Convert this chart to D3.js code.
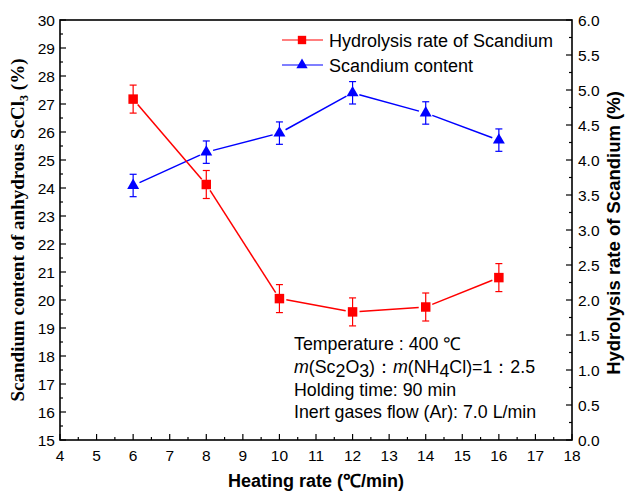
<!DOCTYPE html>
<html><head><meta charset="utf-8">
<script src="https://cdn.jsdelivr.net/npm/d3@7/dist/d3.min.js"></script>
<style>body{margin:0;background:#fff}svg{display:block}.serif,.serif tspan{font-family:"Liberation Serif","DejaVu Serif",serif !important}</style>
</head><body><svg id="c" width="627" height="491"></svg>
<script>
const heatingRate = [6, 8, 10, 12, 14, 16];
const scandiumContent = [24.09, 25.28, 25.96, 27.4, 26.68, 25.71];
const scandiumContentErr = [0.4, 0.4, 0.4, 0.4, 0.4, 0.4];
const hydrolysisRate = [4.87, 3.65, 2.02, 1.83, 1.9, 2.32];
const hydrolysisRateErr = [0.2, 0.2, 0.2, 0.2, 0.2, 0.2];
const xTicks = d3.range(4, 19, 1);
const yLeftTicks = d3.range(15, 31, 1);
const yRightTicks = d3.range(0, 6.01, 0.5);
const seriesNames = ["Hydrolysis rate of Scandium", "Scandium content"];

const SANS = "'Liberation Sans',Arial,sans-serif";
const svg = d3.select("#c").attr("font-family", SANS);
const L = 60, R = 572, T = 20, B = 440;
const x = d3.scaleLinear().domain([4, 18]).range([L, R]);
const yL = d3.scaleLinear().domain([15, 30]).range([B, T]);
const yR = d3.scaleLinear().domain([0, 6]).range([B, T]);

// frame
svg.append("rect").attr("x", L).attr("y", T).attr("width", R - L).attr("height", B - T)
  .attr("fill", "none").attr("stroke", "#000").attr("stroke-width", 1.6);

function ticks(arr, len, orient, scale) {
  arr.forEach(v => {
    const p = scale(v);
    if (orient === "bottom") svg.append("line").attr("x1", p).attr("x2", p).attr("y1", B).attr("y2", B - len).attr("stroke", "#000").attr("stroke-width", 1.2);
    if (orient === "left") svg.append("line").attr("x1", L).attr("x2", L + len).attr("y1", p).attr("y2", p).attr("stroke", "#000").attr("stroke-width", 1.2);
    if (orient === "right") svg.append("line").attr("x1", R).attr("x2", R - len).attr("y1", p).attr("y2", p).attr("stroke", "#000").attr("stroke-width", 1.2);
  });
}
ticks(xTicks, 6, "bottom", x);
ticks(d3.range(4.5, 18, 1), 3, "bottom", x);
ticks(yLeftTicks, 6, "left", yL);
ticks(d3.range(15.5, 30, 1), 3, "left", yL);
ticks(yRightTicks, 6, "right", yR);
ticks(d3.range(0.25, 6, 0.5), 3, "right", yR);

const fs = 15.5;
svg.append("g").selectAll("text").data(xTicks).join("text")
  .attr("x", d => x(d)).attr("y", 461).attr("text-anchor", "middle").attr("font-size", fs).text(d => d);
svg.append("g").selectAll("text").data(yLeftTicks).join("text")
  .attr("x", 55).attr("y", d => yL(d) + 5.5).attr("text-anchor", "end").attr("font-size", fs).text(d => d);
svg.append("g").selectAll("text").data(yRightTicks).join("text")
  .attr("x", 578).attr("y", d => yR(d) + 5.5).attr("text-anchor", "start").attr("font-size", fs).text(d => d.toFixed(1));

// axis titles
svg.append("text").attr("x", 316).attr("y", 487).attr("text-anchor", "middle")
  .attr("font-size", 18).attr("font-weight", "bold").text("Heating rate (℃/min)");
const lt = svg.append("text").attr("class", "serif").attr("transform", "translate(24,230) rotate(-90)").attr("text-anchor", "middle")
  .attr("font-size", 19).attr("font-weight", "bold");
lt.append("tspan").text("Scandium content of anhydrous ScCl");
lt.append("tspan").attr("font-size", 12).attr("dy", 4).text("3");
lt.append("tspan").attr("dy", -4).text(" (%)");
svg.append("text").attr("transform", "translate(620,233) rotate(-90)").attr("text-anchor", "middle")
  .attr("font-size", 18.5).attr("font-weight", "bold").text("Hydrolysis rate of Scandium (%)");

// series
function drawSeries(vals, errs, ys, color, shape) {
  const pts = vals.map((v, i) => [x(heatingRate[i]), ys(v)]);
  const gap = 7;
  for (let i = 0; i < pts.length - 1; i++) {
    const [x1, y1] = pts[i], [x2, y2] = pts[i + 1];
    const dx = x2 - x1, dy = y2 - y1, len = Math.hypot(dx, dy);
    const ux = dx / len, uy = dy / len;
    svg.append("line").attr("x1", x1 + ux * gap).attr("y1", y1 + uy * gap)
      .attr("x2", x2 - ux * gap).attr("y2", y2 - uy * gap)
      .attr("stroke", color).attr("stroke-width", 1.5);
  }
  vals.forEach((v, i) => {
    const cx = x(heatingRate[i]), top = ys(v + errs[i]), bot = ys(v - errs[i]);
    const g = svg.append("g").attr("stroke", color).attr("stroke-width", 1.2);
    g.append("line").attr("x1", cx).attr("x2", cx).attr("y1", top).attr("y2", bot);
    g.append("line").attr("x1", cx - 3.5).attr("x2", cx + 3.5).attr("y1", top).attr("y2", top);
    g.append("line").attr("x1", cx - 3.5).attr("x2", cx + 3.5).attr("y1", bot).attr("y2", bot);
  });
  svg.append("g").selectAll("path").data(pts).join("path")
    .attr("transform", d => `translate(${d[0]},${d[1]})`)
    .attr("d", d3.symbol().type(shape).size(shape === d3.symbolSquare ? 90 : 62)())
    .attr("fill", color);
}
drawSeries(scandiumContent, scandiumContentErr, yL, "#0000ff", d3.symbolTriangle);
drawSeries(hydrolysisRate, hydrolysisRateErr, yR, "#ff0000", d3.symbolSquare);

// legend
const leg = [{ name: seriesNames[0], color: "#ff0000", shape: d3.symbolSquare, y: 40 },
             { name: seriesNames[1], color: "#0000ff", shape: d3.symbolTriangle, y: 65 }];
leg.forEach(l => {
  svg.append("line").attr("x1", 282).attr("x2", 323).attr("y1", l.y).attr("y2", l.y).attr("stroke", l.color).attr("stroke-width", 1.2);
  svg.append("path").attr("transform", `translate(302,${l.y})`)
    .attr("d", d3.symbol().type(l.shape).size(l.shape === d3.symbolSquare ? 70 : 55)()).attr("fill", l.color);
  svg.append("text").attr("x", 329).attr("y", l.y + 6.5).attr("font-size", 18).text(l.name);
});

// annotation
const ax = 294, afs = 17.8;
svg.append("text").attr("x", ax).attr("y", 350).attr("font-size", afs).text("Temperature : 400 ℃");
const a2 = svg.append("text").attr("x", ax).attr("y", 373).attr("font-size", afs);
a2.append("tspan").attr("font-style", "italic").text("m");
a2.append("tspan").text("(Sc");
a2.append("tspan").attr("dy", 4).text("2");
a2.append("tspan").attr("dy", -4).text("O");
a2.append("tspan").attr("dy", 4).text("3");
a2.append("tspan").attr("dy", -4).text(")：");
a2.append("tspan").attr("font-style", "italic").text("m");
a2.append("tspan").text("(NH");
a2.append("tspan").attr("dy", 4).text("4");
a2.append("tspan").attr("dy", -4).text("Cl)=1：2.5");
svg.append("text").attr("x", ax).attr("y", 396).attr("font-size", afs).text("Holding time: 90 min");
svg.append("text").attr("x", ax).attr("y", 418).attr("font-size", afs).text("Inert gases flow (Ar): 7.0 L/min");
</script></body></html>
